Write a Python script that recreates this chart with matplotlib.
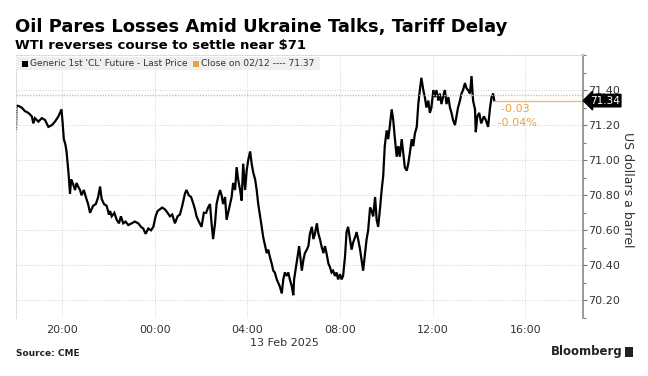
import matplotlib
matplotlib.use("Agg")
import matplotlib.pyplot as plt
import matplotlib.dates as mdates
import matplotlib.transforms as mtransforms
from matplotlib.patches import Rectangle
from matplotlib.ticker import MultipleLocator, FormatStrFormatter
import pandas as pd

# ---- data ----
start_time = "2025-02-12 18:00"
end_time = "2025-02-13 18:30"
minutes = [0, 1, 6, 15, 23, 32, 41, 45, 49, 58, 67, 75, 84, 93, 101, 110, 118, 121, 124, 128,
           131, 136, 140, 143, 147, 153, 157, 161, 166, 170, 176, 181, 187, 192, 196, 200, 207, 213, 218, 222,
           228, 235, 241, 244, 248, 255, 261, 267, 272, 278, 284, 291, 300, 308, 317, 324, 330, 336, 343, 350,
           356, 362, 367, 373, 379, 386, 393, 399, 405, 412, 419, 425, 431, 438, 442, 448, 454, 460, 464, 468,
           474, 481, 487, 493, 498, 503, 507, 511, 516, 520, 524, 529, 533, 537, 542, 546, 550, 555, 559, 563,
           568, 572, 576, 581, 585, 589, 594, 598, 602, 607, 611, 615, 620, 624, 628, 633, 637, 641, 646, 650,
           654, 658, 663, 667, 671, 676, 680, 684, 689, 693, 697, 702, 706, 710, 715, 719, 721, 726, 730, 734,
           736, 741, 745, 749, 754, 758, 762, 767, 771, 775, 780, 784, 788, 792, 797, 801, 805, 810, 814, 818,
           822, 827, 831, 835, 840, 844, 848, 853, 857, 861, 866, 870, 874, 879, 883, 887, 892, 896, 900, 905,
           909, 913, 918, 922, 926, 931, 935, 939, 944, 948, 952, 956, 961, 965, 970, 974, 978, 982, 987, 991,
           995, 1000, 1004, 1008, 1013, 1017, 1021, 1026, 1030, 1034, 1039, 1043, 1047, 1051, 1056, 1060, 1064, 1069, 1073, 1077,
           1082, 1086, 1090, 1095, 1099, 1103, 1108, 1112, 1116, 1121, 1125, 1129, 1133, 1138, 1142, 1146, 1151, 1155, 1159, 1164,
           1168, 1172, 1177, 1181, 1185, 1190, 1192, 1196, 1201, 1206, 1213, 1218, 1224, 1229, 1233, 1237, 1240]
prices = [71.18, 71.31, 71.31, 71.30, 71.28, 71.27, 71.25, 71.21, 71.24, 71.22, 71.24, 71.23, 71.19, 71.20, 71.22, 71.25, 71.29, 71.21, 71.12, 71.09,
          71.05, 70.93, 70.81, 70.89, 70.87, 70.83, 70.87, 70.85, 70.83, 70.80, 70.83, 70.79, 70.75, 70.70, 70.72, 70.74, 70.75, 70.79, 70.85, 70.78,
          70.75, 70.74, 70.69, 70.71, 70.68, 70.70, 70.66, 70.64, 70.68, 70.64, 70.65, 70.63, 70.64, 70.65, 70.64, 70.62, 70.61, 70.58, 70.61, 70.60,
          70.62, 70.68, 70.71, 70.72, 70.73, 70.72, 70.70, 70.68, 70.69, 70.64, 70.68, 70.69, 70.74, 70.81, 70.83, 70.80, 70.79, 70.75, 70.72, 70.68,
          70.65, 70.62, 70.70, 70.70, 70.73, 70.75, 70.64, 70.55, 70.64, 70.75, 70.79, 70.83, 70.80, 70.75, 70.79, 70.66, 70.70, 70.75, 70.79, 70.87,
          70.83, 70.96, 70.89, 70.83, 70.77, 70.98, 70.83, 70.94, 71.00, 71.05, 70.98, 70.93, 70.89, 70.83, 70.75, 70.68, 70.62, 70.56, 70.51, 70.47,
          70.49, 70.45, 70.41, 70.37, 70.36, 70.32, 70.30, 70.28, 70.24, 70.32, 70.36, 70.34, 70.36, 70.32, 70.28, 70.23, 70.32, 70.39, 70.45, 70.51,
          70.47, 70.37, 70.43, 70.47, 70.49, 70.51, 70.58, 70.62, 70.55, 70.58, 70.64, 70.58, 70.55, 70.51, 70.47, 70.51, 70.47, 70.41, 70.39, 70.36,
          70.37, 70.34, 70.36, 70.32, 70.35, 70.32, 70.34, 70.45, 70.59, 70.62, 70.55, 70.49, 70.53, 70.56, 70.59, 70.55, 70.49, 70.43, 70.37, 70.47,
          70.55, 70.60, 70.73, 70.71, 70.68, 70.79, 70.66, 70.62, 70.73, 70.83, 70.91, 71.08, 71.17, 71.12, 71.21, 71.29, 71.23, 71.13, 71.02, 71.08,
          71.02, 71.12, 71.04, 70.96, 70.94, 70.98, 71.04, 71.12, 71.08, 71.15, 71.19, 71.32, 71.40, 71.47, 71.40, 71.36, 71.30, 71.34, 71.27, 71.30,
          71.40, 71.36, 71.40, 71.34, 71.38, 71.32, 71.37, 71.40, 71.32, 71.36, 71.30, 71.27, 71.23, 71.20, 71.25, 71.30, 71.34, 71.38, 71.40, 71.44,
          71.41, 71.40, 71.38, 71.48, 71.34, 71.29, 71.16, 71.25, 71.27, 71.21, 71.25, 71.23, 71.19, 71.30, 71.36, 71.38, 71.34]
prev_close = 71.37
last_price = 71.34
change_abs = "-0.03"
change_pct = "-0.04%"
y_ticks = [70.20, 70.40, 70.60, 70.80, 71.00, 71.20, 71.40]

title = "Oil Pares Losses Amid Ukraine Talks, Tariff Delay"
subtitle = "WTI reverses course to settle near $71"
legend_series = "Generic 1st 'CL' Future - Last Price"
legend_close = "Close on 02/12 ---- 71.37"
y_label = "US dollars a barrel"
date_label = "13 Feb 2025"
source = "Source: CME"

ORANGE = "#E8A33D"

# ---- figure ----
fig = plt.figure(figsize=(6.48, 3.76), dpi=100)
W, H = 648, 376


def fx(px):
    return px / W


def fy(py):
    return 1 - py / H


ax = fig.add_axes([fx(16), fy(318), fx(583) - fx(16), fy(55) - fy(318)])

t0 = pd.Timestamp(start_time)
times = t0 + pd.to_timedelta(minutes, unit="m")
ax.plot(times, prices, color="black", lw=1.6, solid_joinstyle="miter")

ax.set_xlim(t0, pd.Timestamp(end_time))
ax.set_ylim(70.10, 71.60)

# previous close (dotted) and last price line
ax.axhline(prev_close, color="#EDBB6E", lw=1.0, ls=(0, (1, 1)))
ax.plot([times[-1], pd.Timestamp(end_time)], [last_price, last_price], color="#EDBB6E", lw=1.0)

# axes styling
ax.xaxis.set_major_locator(mdates.HourLocator(byhour=[0, 4, 8, 12, 16, 20]))
ax.xaxis.set_major_formatter(mdates.DateFormatter("%H:%M"))
ax.yaxis.set_major_locator(plt.FixedLocator(y_ticks))
ax.yaxis.set_minor_locator(MultipleLocator(0.1))
ax.yaxis.set_major_formatter(FormatStrFormatter("%.2f"))
ax.yaxis.tick_right()
ax.tick_params(axis="y", which="major", direction="out", length=3, width=0.8, color="#777",
               labelsize=8, labelcolor="#333", pad=1)
ax.tick_params(axis="y", which="minor", direction="out", length=2, width=0.8, color="#777")
ax.tick_params(axis="x", length=0, labelsize=8, labelcolor="#333", pad=5)
ax.grid(True, which="major", color="#d4d4d4", ls=(0, (1, 1.5)), lw=0.7)

for s in ["left", "top"]:
    ax.spines[s].set_color("#d4d4d4")
    ax.spines[s].set_linestyle((0, (1, 1.5)))
    ax.spines[s].set_linewidth(0.7)
ax.spines["bottom"].set_visible(False)
ax.spines["right"].set_color("#888")
ax.spines["right"].set_linewidth(1.2)

# last price tag
trans = mtransforms.blended_transform_factory(ax.transAxes, ax.transData)
ax.text(1.012, last_price, f"{last_price:.2f}", transform=trans, ha="left", va="center",
        fontsize=7.5, color="white",
        bbox=dict(boxstyle="larrow,pad=0.12", fc="black", ec="black"))

# change annotations
ax.text(times[-1], 71.29, "  " + change_abs, color=ORANGE, fontsize=8, ha="left", va="center")
ax.text(times[-1], 71.21, " " + change_pct, color=ORANGE, fontsize=8, ha="left", va="center")

# y label
fig.text(fx(627), fy(190), y_label, rotation=270, ha="center", va="center", fontsize=9, color="#333")

# date label
fig.text(fx(284), fy(343), date_label, ha="center", va="center", fontsize=8, color="#333")

# titles
fig.text(fx(15), fy(27), title, ha="left", va="center", fontsize=13, fontweight="bold", color="black")
fig.text(fx(15), fy(45), subtitle, ha="left", va="center", fontsize=9.5, fontweight="bold", color="black")

# legend box
fig.patches.append(Rectangle((fx(16), fy(70)), fx(320) - fx(16), fy(57) - fy(70),
                             transform=fig.transFigure, fc="#efefef", ec="none", zorder=3))
fig.patches.append(Rectangle((fx(22), fy(67)), fx(6), fy(61) - fy(67),
                             transform=fig.transFigure, fc="black", ec="none", zorder=4))
fig.text(fx(30), fy(63.5), legend_series, ha="left", va="center", fontsize=6.6, color="#333", zorder=5)
fig.patches.append(Rectangle((fx(193), fy(67)), fx(6), fy(61) - fy(67),
                             transform=fig.transFigure, fc=ORANGE, ec="none", zorder=4))
fig.text(fx(201), fy(63.5), legend_close, ha="left", va="center", fontsize=6.6, color="#333", zorder=5)

# footer
fig.text(fx(16), fy(353), source, ha="left", va="center", fontsize=6.5, fontweight="bold", color="#222")
fig.text(fx(623), fy(352), "Bloomberg", ha="right", va="center", fontsize=8.5, fontweight="bold", color="#222")
fig.patches.append(Rectangle((fx(625), fy(357)), fx(8), fy(347) - fy(357),
                             transform=fig.transFigure, fc="#222", ec="none"))

fig.savefig("out.png", dpi=100, facecolor="white")
